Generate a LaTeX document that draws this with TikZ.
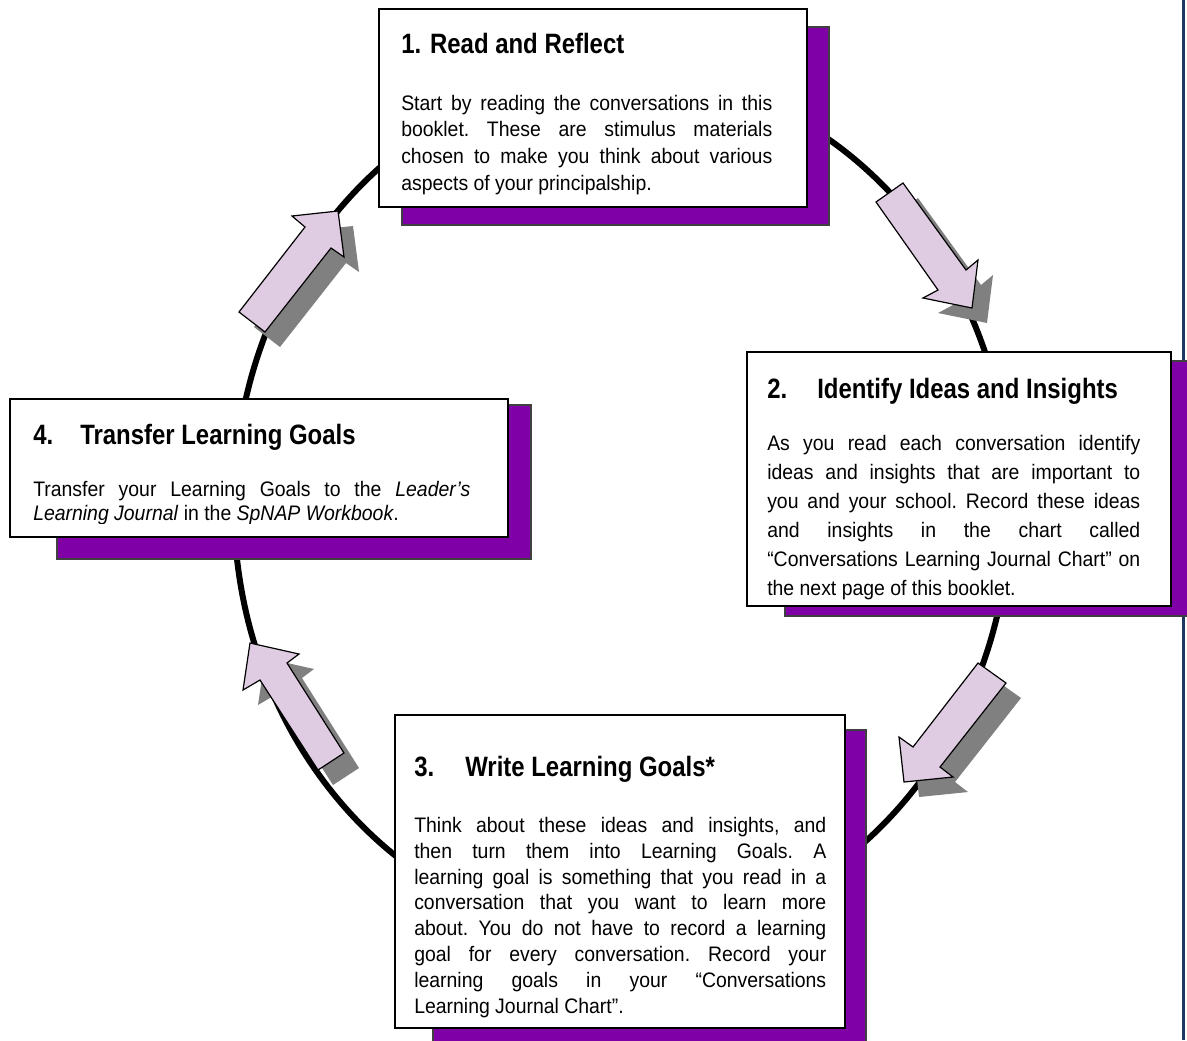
\documentclass[tikz,border=0pt]{standalone}
\usepackage{fontspec}
\setmainfont{Liberation Sans}[FakeStretch=0.925]
\newfontfamily\headfamily{Liberation Sans}[FakeStretch=0.855]
\definecolor{cardpurple}{RGB}{128,0,168}
\definecolor{arrowlilac}{RGB}{224,204,226}
\definecolor{arrowgrey}{RGB}{128,128,128}
\definecolor{rulenavy}{RGB}{31,56,100}
\newcommand{\cardhead}{\headfamily\fontsize{21pt}{24pt}\selectfont\bfseries}

\begin{document}
\begin{tikzpicture}[line cap=butt,line join=miter,x=0.75pt,y=-0.75pt,
    ring/.style={line width=4.5pt},
    lilacarrow/.style={fill=arrowlilac,draw=black,line width=0.9pt},
    greyarrow/.style={fill=arrowgrey,draw=none,shift={(15,15)}},
    purpleshadow/.style={fill=cardpurple,draw=black!75,line width=0.8pt},
    whitecard/.style={fill=white,draw=black,line width=1.2pt},
    headtext/.style={anchor=base west,inner sep=0pt,font=\cardhead},
    bodytext/.style={anchor=north west,inner sep=0pt,align=justify},
    leading/.style={font=\frenchspacing\fontsize{15.75pt}{#1}\selectfont}]
    \useasboundingbox (0,0) rectangle (1187,1040);

    % cycle ring and page rule
    \draw[ring] (622,505) ellipse [x radius=291pt,y radius=324pt];
    \draw[rulenavy,line width=2.2pt] (1183.5,0) -- (1183.5,1040);

    % block arrows
    \fill[greyarrow] (239,312) -- (305,227) -- (292,216) -- (338,211) -- (344,257) -- (331,248) -- (265,332) -- cycle;
    \draw[lilacarrow] (239,312) -- (305,227) -- (292,216) -- (338,211) -- (344,257) -- (331,248) -- (265,332) -- cycle;
    \fill[greyarrow] (876,202) -- (938,290) -- (923,298) -- (972,308) -- (978,260) -- (966,270) -- (903,183) -- cycle;
    \draw[lilacarrow] (876,202) -- (938,290) -- (923,298) -- (972,308) -- (978,260) -- (966,270) -- (903,183) -- cycle;
    \fill[greyarrow] (978,663) -- (913,747) -- (899,737) -- (904,782) -- (953,777) -- (940,767) -- (1006,683) -- cycle;
    \draw[lilacarrow] (978,663) -- (913,747) -- (899,737) -- (904,782) -- (953,777) -- (940,767) -- (1006,683) -- cycle;
    \fill[greyarrow] (318,770) -- (260,680) -- (243,690) -- (250,643) -- (299,654) -- (287,663) -- (344,753) -- cycle;
    \draw[lilacarrow] (318,770) -- (260,680) -- (243,690) -- (250,643) -- (299,654) -- (287,663) -- (344,753) -- cycle;

    % card shadows
    \draw[purpleshadow] (402,27) rectangle (829,225);
    \draw[purpleshadow] (785,361) rectangle (1190,616);
    \draw[purpleshadow] (433,730) rectangle (866,1045);
    \draw[purpleshadow] (57,405) rectangle (531,559);

    % cards
    \draw[whitecard] (379,9) rectangle (807,207);
    \draw[whitecard] (747,352) rectangle (1171,606);
    \draw[whitecard] (395,715) rectangle (845,1028);
    \draw[whitecard] (10,399) rectangle (508,537);

    % card 1
    \node[headtext] (readhead) at (401,53) {1. Read and Reflect};
    \begin{scope}
        \clip (379,9) rectangle (807,197);
        \node[bodytext,leading=20pt,text width=278.25pt] (readbody) at (401,91.3)
            {\strut Start by reading the conversations in this\linebreak
            booklet. These are stimulus materials\linebreak
            chosen to make you think about various\linebreak
            aspects of your principalship.};
    \end{scope}

    % card 2
    \node[headtext] (identhead) at (767,398) {\makebox[37.5pt][l]{2.}Identify Ideas and Insights};
    \begin{scope}
        \clip (747,352) rectangle (1171,599);
        \node[bodytext,leading=21.75pt,text width=279.75pt] (identbody) at (767,429.7)
            {\strut As you read each conversation identify\linebreak
            ideas and insights that are important to\linebreak
            you and your school. Record these ideas\linebreak
            and insights in the chart called\linebreak
            “Conversations Learning Journal Chart” on\linebreak
            the next page of this booklet.};
    \end{scope}

    % card 3
    \node[headtext] (writehead) at (414,776) {\makebox[38.25pt][l]{3.}Write Learning Goals*};
    \begin{scope}
        \clip (395,715) rectangle (845,1019);
        \node[bodytext,leading=19.4pt,text width=309pt] (writebody) at (414,813.9)
            {\strut Think about these ideas and insights, and\linebreak
            then turn them into Learning Goals. A\linebreak
            learning goal is something that you read in a\linebreak
            conversation that you want to learn more\linebreak
            about. You do not have to record a learning\linebreak
            goal for every conversation. Record your\linebreak
            learning goals in your “Conversations\linebreak
            Learning Journal Chart”.};
    \end{scope}

    % card 4
    \node[headtext] (transhead) at (33,444) {\makebox[35.25pt][l]{4.}Transfer Learning Goals};
    \begin{scope}
        \clip (10,399) rectangle (508,523);
        \node[bodytext,leading=18pt,text width=327.75pt] (transbody) at (33,479.2)
            {\strut Transfer your Learning Goals to the \textit{Leader’s}\linebreak
            \textit{Learning Journal} in the \textit{SpNAP Workbook}.};
    \end{scope}
\end{tikzpicture}
\end{document}
